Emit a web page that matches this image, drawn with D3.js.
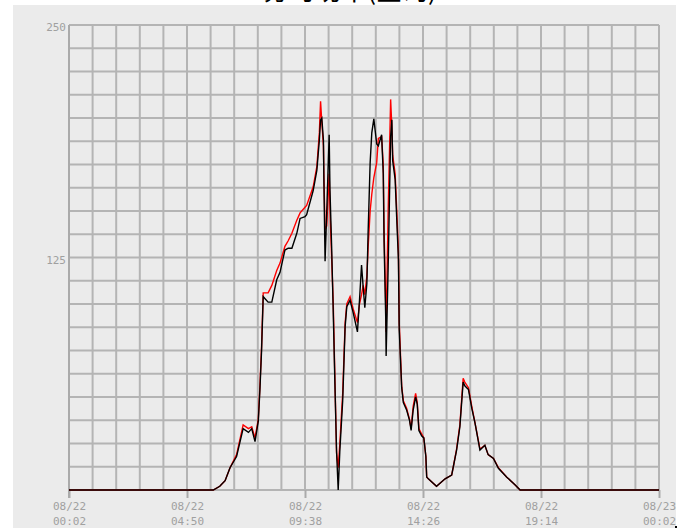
<!DOCTYPE html>
<html><head><meta charset="utf-8">
<script src="https://cdn.jsdelivr.net/npm/d3@7"></script>
<style>body{margin:0;background:#fff}svg{display:block}</style>
</head><body>
<svg id="c" width="689" height="528"></svg>
<script>
const titleText = "分时功率(查询)";
const times = ["00:02","05:54","06:10","06:23","06:35","06:51","07:07","07:20","07:28","07:36","07:44","07:48","07:52","07:56","08:00","08:08","08:17","08:29","08:37","08:49","08:57","09:06","09:18","09:26","09:38","09:42","09:58","10:07","10:13","10:16","10:19","10:23","10:24","10:27","10:31","10:37","10:39","10:43","10:47","10:51","10:55","10:59","11:03","11:10","11:16","11:20","11:28","11:36","11:46","11:51","11:56","12:00","12:04","12:09","12:12","12:17","12:21","12:26","12:33","12:37","12:45","12:49","12:51","12:55","12:56","13:01","13:07","13:10","13:12","13:18","13:22","13:26","13:28","13:34","13:38","13:46","13:53","13:57","14:02","14:08","14:12","14:16","14:23","14:28","14:33","14:35","14:39","14:59","15:20","15:36","15:40","15:48","15:56","16:04","16:08","16:17","16:25","16:33","16:45","16:57","17:05","17:18","17:30","17:50","18:11","18:23","24:02"];
const blackSeries = [0,0,2,5,12,18,33,31,33,26,37,54,75,104,103,101,101,113,117,129,130,130,138,146,147,148,161,172,188,199,200,188,168,123,149,191,161,131,95,57,21,0,21,48,88,98.5,102,95,85,102,121,109,98,111,138,176,192,199.5,186,185,191,170,133,93,72,120,190,199,177,167,145,124,86,55,47,43,37.6,32,43,50,46,32,29,28,18,7,6,2,6,8,12.5,21.5,34,58,56,54,44,36,21.5,24,19,17,11.7,7,2.7,0,0];
const redSeries = [0,0,2,5,12,19,35,33,34,28,38,56,77,106,106,106,110,118,122,131,134,138,145,149,152,153,163,174,192,209,198,185,170,140,142,170,150,125,100,60,20,12,25,52,90,100,104,97,90,100,105,110,105,115,130,150,159,168,176,189,190,175,140,100,85,150,210,195,180,170,150,128,90,56,48,44,38,33,45,52,47,33,30,28,18,7,6,2,6,8,12.5,22,35,60,58,55,45,36,22,24,19,17,12,7,2.7,0,0];
const xTickMinutes = [2, 290, 578, 866, 1154, 1442];
const xTickDates = ["08/22","08/22","08/22","08/22","08/22","08/23"];
const xTickTimes = ["00:02","04:50","09:38","14:26","19:14","00:02"];
const yLabelValues = [125, 250];

const toMin = s => { const [h,m] = s.split(":").map(Number); return h*60+m; };

const svg = d3.select("#c");
const L = 69, R = 659, T = 25, B = 490;

svg.append("rect").attr("x",13).attr("y",5).attr("width",663).attr("height",523).attr("fill","#ebebeb");
svg.append("text").attr("x",350).attr("y",0).attr("text-anchor","middle")
  .attr("font-family","'Noto Sans CJK SC'").attr("font-size",26).attr("fill","#000").text(titleText);
svg.append("rect").attr("x",675).attr("y",526).attr("width",2).attr("height",2).attr("fill","#000");

const x = d3.scaleLinear().domain([2,1442]).range([L,R]);
const y = d3.scaleLinear().domain([0,250]).range([B,T]);

const grid = svg.append("g").attr("stroke","#b4b4b4").attr("stroke-width",2);
d3.range(0,26).forEach(i=>{
  const xv = x.invert(L + (R-L)*i/25);
  grid.append("line").attr("x1",x(xv)).attr("x2",x(xv)).attr("y1",T).attr("y2",B);
});
d3.range(0,21).forEach(i=>{
  const v = 250*i/20;
  grid.append("line").attr("x1",L).attr("x2",R).attr("y1",y(v)).attr("y2",y(v));
});

// x axis
const xa = svg.append("g").attr("transform",`translate(0,${B})`)
  .call(d3.axisBottom(x).tickValues(xTickMinutes).tickSize(8).tickSizeOuter(0).tickFormat(""));
xa.select(".domain").remove();
xa.selectAll(".tick line").attr("stroke","#aaa").attr("stroke-width",2);
xa.selectAll(".tick").each(function(d,i){
  const t = d3.select(this).append("text").attr("fill","#a0a0a0")
    .attr("font-family","'DejaVu Sans Mono'").attr("font-size",11).attr("text-anchor","middle");
  t.append("tspan").attr("x",0).attr("y",20).text(xTickDates[i]);
  t.append("tspan").attr("x",0).attr("y",35).text(xTickTimes[i]);
});

// y labels
const ya = svg.append("g").attr("transform",`translate(${L},0)`)
  .call(d3.axisLeft(y).tickValues(yLabelValues).tickSize(0).tickPadding(3));
ya.select(".domain").remove();
ya.selectAll("text").attr("fill","#a0a0a0").attr("font-family","'DejaVu Sans Mono'").attr("font-size",11).attr("dy","0.5em");
svg.append("line").attr("x1",L).attr("x2",L).attr("y1",T).attr("y2",B+8).attr("stroke","#aaa").attr("stroke-width",2);

const line = vals => d3.line().x((d,i)=>x(toMin(times[i]))).y(d=>y(d))(vals);
svg.append("path").attr("d",line(redSeries)).attr("fill","none").attr("stroke","#ff0000").attr("stroke-width",1.4);
svg.append("path").attr("d",line(blackSeries)).attr("fill","none").attr("stroke","#000").attr("stroke-width",1.4);
</script>
</body></html>
